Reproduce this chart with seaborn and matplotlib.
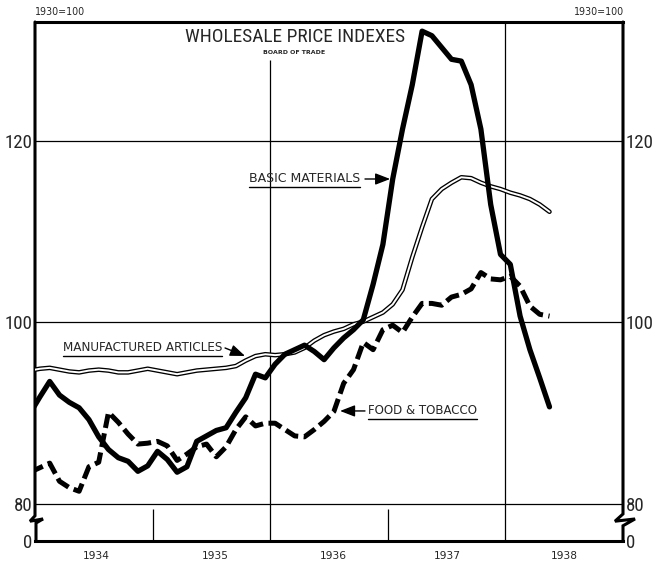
import numpy as np
import pandas as pd
import matplotlib
matplotlib.use('Agg')
import matplotlib.pyplot as plt
import matplotlib.transforms as mtransforms
from matplotlib import font_manager as fm
import seaborn as sns

# ------------------------------------------
# data (monthly index numbers, 1930 = 100)
# ------------------------------------------
months = pd.period_range('1933-12', '1938-05', freq='M')

basic_materials = [
    90.0,
    91.8, 93.5, 92.0, 91.2, 90.6, 89.3, 87.4, 86.0, 85.1, 84.7, 83.6, 84.2,      # 1934
    85.8, 84.9, 83.5, 84.1, 86.9, 87.5, 88.1, 88.4, 90.1, 91.7, 94.3, 93.9,      # 1935
    95.4, 96.5, 97.0, 97.5, 96.8, 95.9, 97.2, 98.3, 99.2, 100.3, 104.2, 108.6,   # 1936
    115.8, 121.3, 126.2, 132.1, 131.6, 130.3, 129.0, 128.8, 126.2, 121.3, 113.0, 107.5,  # 1937
    106.4, 100.7, 97.0, 93.9, 90.7,                                              # 1938
]
manufactured = [
    94.7,
    94.9, 95.0, 94.8, 94.6, 94.5, 94.7, 94.8, 94.7, 94.5, 94.5, 94.7, 94.9,
    94.7, 94.5, 94.3, 94.5, 94.7, 94.8, 94.9, 95.0, 95.2, 95.8, 96.3, 96.5,
    96.4, 96.5, 96.7, 97.2, 98.0, 98.6, 99.0, 99.3, 99.8, 100.1, 100.6, 101.1,
    102.0, 103.6, 107.2, 110.5, 113.6, 114.7, 115.4, 116.0, 115.9, 115.4, 115.0, 114.7,
    114.3, 114.0, 113.6, 113.0, 112.2,
]
food_tobacco = [
    83.5,
    84.0, 84.5, 82.5, 81.8, 81.4, 84.1, 84.6, 90.1, 89.0, 87.7, 86.6, 86.7,
    86.9, 86.4, 84.8, 85.5, 86.3, 86.6, 85.2, 86.3, 88.2, 89.6, 88.6, 88.9,
    88.9, 88.2, 87.5, 87.4, 88.2, 89.1, 90.2, 93.3, 94.8, 97.8, 97.0, 99.2,
    99.7, 98.9, 100.6, 102.1, 102.1, 101.9, 102.8, 103.1, 103.7, 105.5, 104.8, 104.7,
    105.1, 104.0, 101.8, 100.9, 100.7,
]

year_labels = ['1934', '1935', '1936', '1937', '1938']
y_ticks = [80, 100, 120]

df = pd.DataFrame({
    'x': months.year + (months.month - 0.5) / 12,
    'basic': basic_materials,
    'manuf': manufactured,
    'food': food_tobacco,
})

# ------------------------------------------
# style
# ------------------------------------------
sns.set_style('white')
plt.rcParams['font.family'] = ['DejaVu Sans']

installed = {f.name for f in fm.fontManager.ttflist}


def pick(cands, default='DejaVu Sans'):
    for c in cands:
        if c in installed:
            return c
    return default


NARROW = [pick(['Roboto Condensed', 'Archivo Narrow', 'PT Sans Narrow', 'Barlow Condensed',
                'Liberation Sans Narrow', 'Open Sans Condensed']), 'DejaVu Sans']

fig = plt.figure(figsize=(6.65, 5.83), dpi=100)
ax = fig.add_axes([35 / 665, 1 - 541 / 583, 588 / 665, 519 / 583])

YMIN, YMAX = 75.92, 133.11
ax.set_xlim(1934, 1939)
ax.set_ylim(YMIN, YMAX)

# grid / frame
for v in y_ticks:
    ax.axhline(v, color='black', lw=0.9, zorder=1)
ax.vlines(1936, YMIN, 128.9, color='black', lw=0.9, zorder=1)
ax.vlines(1938, YMIN, YMAX, color='black', lw=0.9, zorder=1)
ax.vlines([1935, 1937], YMIN, 79.45, color='black', lw=0.9, zorder=1)

for s in ['left', 'right']:
    ax.spines[s].set_visible(False)
for s in ['top', 'bottom']:
    ax.spines[s].set_linewidth(2.2)
    ax.spines[s].set_color('black')

# side borders with the scale-break zigzag
trans = mtransforms.blended_transform_factory(ax.transAxes, ax.transData)
px = 1 / 588
ax.plot(np.array([0, 0, -5, 8, 1, 1]) * px, [YMAX, 78.7, 78.1, 78.35, 77.9, YMIN],
        transform=trans, color='black', lw=2.2, clip_on=False, solid_joinstyle='miter')
ax.plot(1 + np.array([0, 0, -8, 12, 0, 0]) * px, [YMAX, 78.9, 78.1, 78.35, 77.6, YMIN],
        transform=trans, color='black', lw=2.2, clip_on=False, solid_joinstyle='miter')

# ------------------------------------------
# series
# ------------------------------------------
sns.lineplot(data=df, x='x', y='manuf', color='black', lw=3.3, ax=ax, zorder=3)
sns.lineplot(data=df, x='x', y='manuf', color='white', lw=1.4, ax=ax, zorder=3)
sns.lineplot(data=df, x='x', y='food', color='black', lw=3.6, ax=ax, zorder=4,
             linestyle=(0, (2.8, 1.1)), dash_capstyle='butt')
sns.lineplot(data=df, x='x', y='basic', color='black', lw=3.8, ax=ax, zorder=5,
             solid_joinstyle='round')

# ------------------------------------------
# axes labels
# ------------------------------------------
ax.set_xlabel('')
ax.set_ylabel('')
ax.set_xticks([1934.52, 1935.53, 1936.54, 1937.51, 1938.5])
ax.set_xticklabels(year_labels, fontsize=7.5)
ax.set_yticks([YMIN] + y_ticks)
ax.set_yticklabels(['0'] + [str(v) for v in y_ticks])
ax.tick_params(axis='x', length=0, pad=7)
ax.tick_params(axis='y', length=0, pad=2, labelright=True)
ylabs = []
for tk in ax.yaxis.get_major_ticks():
    for lab in (tk.label1, tk.label2):
        lab.set_family(NARROW)
        lab.set_fontsize(14)
        ylabs.append(lab)

top_l = fig.text(35 / 665, 1 - 12 / 583, '1930=100', fontsize=7, ha='left', va='center')
top_r = fig.text(624 / 665, 1 - 12 / 583, '1930=100', fontsize=7, ha='right', va='center')

title = ax.text(0.4425, 0.971, 'WHOLESALE PRICE INDEXES', transform=ax.transAxes,
                ha='center', va='center', fontsize=14, family=NARROW)
sub = ax.text(0.44, 0.942, 'BOARD OF TRADE', transform=ax.transAxes,
              ha='center', va='center', fontsize=5, fontweight='bold')

# ------------------------------------------
# series labels with arrows
# ------------------------------------------
labels = [
    ('BASIC MATERIALS', (1935.82, 115.81), (1936.806, 115.81), (1937.02, 115.81), 111),
    ('MANUFACTURED ARTICLES', (1934.238, 97.19), (1935.616, 97.19), (1935.786, 96.31), 160),
    ('FOOD & TOBACCO', (1936.832, 90.25), (1936.806, 90.25), (1936.594, 90.25), 109),
]
texts = []
for txt, pos, tail, tip, w in labels:
    t = ax.text(pos[0], pos[1], txt, fontsize=8, ha='left', va='center', zorder=6)
    texts.append((t, w))
    ax.annotate('', xy=tip, xytext=tail,
                arrowprops=dict(arrowstyle='-|>,head_length=0.9,head_width=0.35',
                                color='black', lw=1.0, shrinkA=0, shrinkB=0))

# fit text widths to the lettering of the original
fig.canvas.draw()
rend = fig.canvas.get_renderer()


def fit(t, width_px):
    bb = t.get_window_extent(renderer=rend)
    if bb.width > 0:
        t.set_fontsize(t.get_fontsize() * width_px / bb.width)


fit(title, 221)
fit(sub, 63)
fit(top_l, 50)
fit(top_r, 50)
for lab in ylabs:
    if lab.get_text() == '120':
        fit(lab, 28)
size_y = max(l.get_fontsize() for l in ylabs if l.get_text() == '120')
for lab in ylabs:
    lab.set_fontsize(size_y)
xl = ax.get_xticklabels()
fit(xl[0], 27)
for lab in xl:
    lab.set_fontsize(xl[0].get_fontsize())
for t, w in texts:
    fit(t, w)

fig.canvas.draw()
inv = ax.transData.inverted()
for t, w in texts:
    bb = t.get_window_extent(renderer=rend)
    (x0, y0), (x1, _) = inv.transform([(bb.x0, bb.y0 - 2), (bb.x1, bb.y0 - 2)])
    ax.plot([x0, x1], [y0, y0], color='black', lw=1.0, zorder=6)

fig.savefig('out.png', dpi=100)
